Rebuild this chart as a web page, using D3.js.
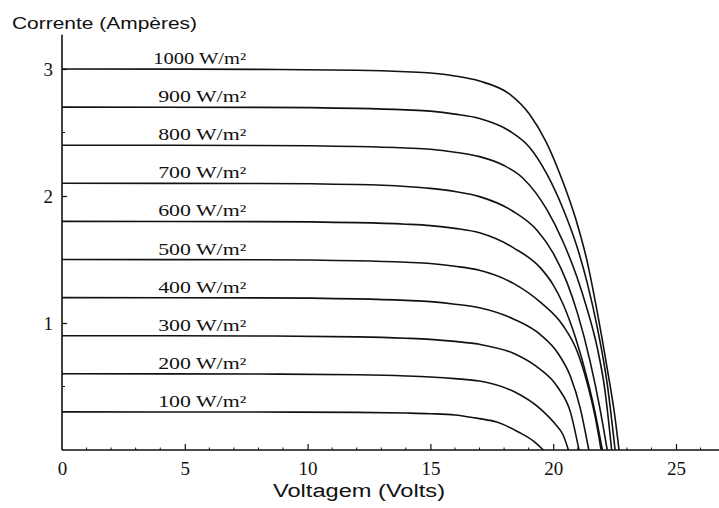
<!DOCTYPE html>
<html>
<head>
<meta charset="utf-8">
<script src="https://cdn.jsdelivr.net/npm/d3@7/dist/d3.min.js"></script>
<style>
  html, body { margin: 0; padding: 0; background: #fff; }
  svg { display: block; }
</style>
</head>
<body>
<svg id="chart" width="719" height="508"></svg>
<script>
// ---- data ----
const irradiance = [100, 200, 300, 400, 500, 600, 700, 800, 900, 1000];
const seriesLabels = ["100 W/m²", "200 W/m²", "300 W/m²", "400 W/m²", "500 W/m²",
                      "600 W/m²", "700 W/m²", "800 W/m²", "900 W/m²", "1000 W/m²"];
const xTicks = [0, 5, 10, 15, 20, 25];
const yTicks = [1, 2, 3];

// [voltage (V), current (A)] points per curve
const curve100  = [[0,0.30],[8,0.299],[12,0.296],[14,0.291],[15,0.286],[16,0.276],[17,0.247],[17.7,0.22],[18.6,0.14],[19.2,0.07],[19.6,0]];
const curve200  = [[0,0.60],[8,0.598],[12,0.592],[14,0.583],[15,0.575],[16,0.562],[17,0.543],[18.4,0.46],[19.5,0.32],[20.1,0.20],[20.4,0.12],[20.62,0]];
const curve300  = [[0,0.90],[8,0.898],[12,0.891],[14,0.88],[15,0.871],[16,0.855],[17,0.832],[18.4,0.76],[19.3,0.66],[20.2,0.49],[20.7,0.30],[21.05,0]];
const curve400  = [[0,1.20],[8,1.198],[12,1.19],[14,1.178],[15,1.168],[16,1.148],[17,1.12],[18.4,1.03],[19.5,0.905],[20.2,0.76],[20.7,0.58],[21.1,0.33],[21.45,0]];
const curve500  = [[0,1.50],[8,1.498],[12,1.49],[14,1.478],[15,1.468],[16,1.447],[17,1.415],[18.4,1.31],[19.5,1.16],[20.4,0.98],[20.97,0.78],[21.38,0.53],[21.7,0.27],[21.95,0]];
const curve600  = [[0,1.80],[8,1.798],[12,1.79],[14,1.778],[15,1.767],[16,1.745],[17,1.71],[18.4,1.59],[19.5,1.43],[20.0,1.30],[20.4,1.15],[20.9,0.89],[21.4,0.55],[21.7,0.30],[22.0,0]];
const curve700  = [[0,2.10],[8,2.098],[12,2.09],[14,2.075],[15,2.06],[16,2.035],[17,1.995],[18.36,1.88],[19.34,1.73],[20.0,1.55],[20.56,1.32],[21.0,1.07],[21.5,0.70],[21.9,0.33],[22.2,0]];
const curve800  = [[0,2.40],[8,2.398],[12,2.39],[14,2.378],[15,2.368],[16,2.345],[17,2.31],[18.0,2.24],[18.77,2.14],[19.75,1.89],[20.4,1.64],[20.97,1.36],[21.38,1.11],[21.8,0.80],[22.1,0.48],[22.38,0]];
const curve900  = [[0,2.70],[8,2.698],[12,2.69],[14,2.678],[15,2.668],[16,2.645],[17,2.61],[18.24,2.51],[19.05,2.38],[19.75,2.17],[20.4,1.90],[20.97,1.60],[21.38,1.32],[21.8,0.96],[22.2,0.52],[22.52,0]];
const curve1000 = [[0,3.00],[8,2.997],[12,2.99],[14,2.978],[15,2.968],[16,2.945],[17,2.905],[18.24,2.80],[19.05,2.64],[19.7,2.43],[20.3,2.16],[20.9,1.83],[21.4,1.47],[21.8,1.08],[22.2,0.64],[22.5,0.28],[22.68,0]];
const curves = [curve100, curve200, curve300, curve400, curve500, curve600, curve700, curve800, curve900, curve1000];

// ---- layout ----
const W = 719, H = 508;
const svg = d3.select("#chart");
svg.append("rect").attr("width", W).attr("height", H).attr("fill", "#fff");

const x = d3.scaleLinear().domain([0, 25]).range([62, 676]);
const y = d3.scaleLinear().domain([0, 3]).range([450, 69]);

const ink = "#111";
const serif = "'Liberation Serif', 'Times New Roman', serif";
const sans = "'Liberation Sans', Arial, sans-serif";

// axis lines
svg.append("line")
  .attr("x1", x(0)).attr("x2", W).attr("y1", y(0)).attr("y2", y(0))
  .attr("stroke", ink).attr("stroke-width", 1.6);
svg.append("line")
  .attr("x1", x(0)).attr("x2", x(0)).attr("y1", y(0)).attr("y2", y(3.27))
  .attr("stroke", ink).attr("stroke-width", 1.6);

// minor ticks
const xMinor = d3.range(1, 27).filter(v => v % 5 !== 0);
svg.append("g").selectAll("line").data(xMinor).join("line")
  .attr("x1", d => x(d)).attr("x2", d => x(d))
  .attr("y1", y(0)).attr("y2", y(0) - 2.5)
  .attr("stroke", ink).attr("stroke-width", 1);
const yMinor = [0.5, 1.5, 2.5];
svg.append("g").selectAll("line").data(yMinor).join("line")
  .attr("x1", x(0)).attr("x2", x(0) + 3)
  .attr("y1", d => y(d)).attr("y2", d => y(d))
  .attr("stroke", ink).attr("stroke-width", 1);

// x axis (major ticks + labels)
const xAxis = d3.axisBottom(x).tickValues(xTicks).tickFormat(d3.format("d"))
  .tickSizeInner(-6).tickSizeOuter(0).tickPadding(12);
const gx = svg.append("g").attr("transform", `translate(0,${y(0)})`).call(xAxis);
gx.select(".domain").remove();
gx.selectAll(".tick line").attr("stroke", ink).attr("stroke-width", 1.2)
  .filter(d => d === 0).remove();
gx.selectAll(".tick text").attr("fill", ink)
  .style("font-family", serif).style("font-size", "19px");

// y axis
const yAxis = d3.axisLeft(y).tickValues(yTicks).tickFormat(d3.format("d"))
  .tickSizeInner(-5).tickSizeOuter(0).tickPadding(9);
const gy = svg.append("g").attr("transform", `translate(${x(0)},0)`).call(yAxis);
gy.select(".domain").remove();
gy.selectAll(".tick line").attr("stroke", ink).attr("stroke-width", 1.2);
gy.selectAll(".tick text").attr("fill", ink)
  .style("font-family", serif).style("font-size", "19px");

// curves
const line = d3.line().x(d => x(d[0])).y(d => y(d[1])).curve(d3.curveMonotoneX);
svg.append("g").selectAll("path").data(curves).join("path")
  .attr("d", line)
  .attr("fill", "none").attr("stroke", ink).attr("stroke-width", 1.6)
  .attr("stroke-linejoin", "round");

// curve labels
svg.append("g").selectAll("text").data(irradiance).join("text")
  .attr("x", x(7.5)).attr("y", (d, i) => y(curves[i][0][1]) - 5)
  .attr("text-anchor", "end")
  .attr("textLength", d => d >= 1000 ? 93 : 88)
  .attr("lengthAdjust", "spacingAndGlyphs")
  .style("font-family", serif).style("font-size", "16px").attr("fill", ink)
  .text((d, i) => seriesLabels[i]);

// axis titles
svg.append("text").attr("x", 12).attr("y", 29)
  .attr("textLength", 185).attr("lengthAdjust", "spacingAndGlyphs")
  .style("font-family", sans).style("font-size", "17px").attr("fill", ink)
  .text("Corrente (Ampères)");
svg.append("text").attr("x", 273).attr("y", 497)
  .attr("textLength", 172).attr("lengthAdjust", "spacingAndGlyphs")
  .style("font-family", sans).style("font-size", "18px").attr("fill", ink)
  .text("Voltagem (Volts)");
</script>
</body>
</html>
